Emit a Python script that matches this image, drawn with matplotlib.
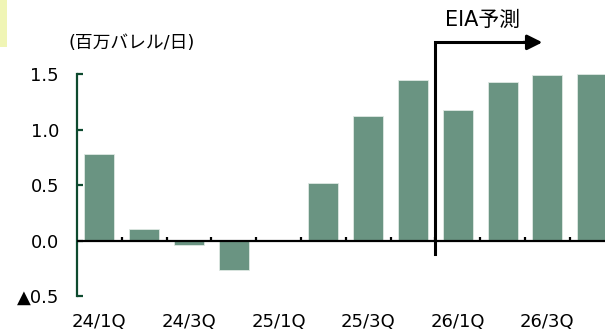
import numpy as np
import matplotlib
matplotlib.use('Agg')
import matplotlib.pyplot as plt
from matplotlib.patches import Rectangle

plt.rcParams['font.family'] = ['DejaVu Sans', 'Noto Sans CJK JP']

# データ (百万バレル/日)
quarters = ['24/1Q', '24/2Q', '24/3Q', '24/4Q', '25/1Q', '25/2Q',
            '25/3Q', '25/4Q', '26/1Q', '26/2Q', '26/3Q', '26/4Q']
values = [0.78, 0.105, -0.04, -0.27, 0.0, 0.515,
          1.12, 1.45, 1.18, 1.425, 1.49, 1.50]
forecast_start = '26/1Q'
yticks = [-0.5, 0.0, 0.5, 1.0, 1.5]
ytick_labels = ['▲0.5', '0.0', '0.5', '1.0', '1.5']

W, H = 605, 333
fig = plt.figure(figsize=(W / 100, H / 100), dpi=100)
# 右端のバーは少し切れている
ax = fig.add_axes([77 / W, (H - 296) / H, (12 * 44.8) / W, (296 - 74) / H])

x = np.arange(len(quarters))
ax.bar(x, values, width=0.67, color='#6a9482', edgecolor='#dfe9e3', linewidth=0.6, zorder=2)

ax.set_xlim(-0.5, len(quarters) - 0.5)
ax.set_ylim(-0.5, 1.5)

# 0の軸線と区切り目盛り
ax.axhline(0, color='black', lw=1.6, zorder=3)
bounds = np.arange(len(quarters) + 1) - 0.5
ax.vlines(bounds[1:], 0, 0.036, color='black', lw=1.6, zorder=3)

for s in ['top', 'right', 'bottom']:
    ax.spines[s].set_visible(False)
ax.spines['left'].set_color('#0e4a2f')
ax.spines['left'].set_linewidth(1.6)

ax.set_yticks(yticks)
ax.set_yticklabels(ytick_labels, family=['DejaVu Sans', 'Noto Sans CJK JP'])
ax.tick_params(axis='y', direction='in', length=4, width=1.6, color='#0e4a2f',
               pad=13, labelsize=13)

ax.set_xticks(x[::2])
ax.set_xticklabels(quarters[::2])
ax.tick_params(axis='x', length=0, pad=12, labelsize=13)

# EIA予測の矢印
xs = quarters.index(forecast_start) - 0.5
ax.plot([xs, xs, 9.5], [-0.125, 1.785, 1.785], color='black', lw=2.2,
        clip_on=False, zorder=4, solid_joinstyle='miter')
ax.annotate('', xy=(9.95, 1.785), xytext=(9.4, 1.785),
            arrowprops=dict(arrowstyle='-|>,head_length=0.9,head_width=0.45',
                            color='black', lw=2.2),
            annotation_clip=False)
fig.text(483 / W, 1 - 20 / H, 'EIA予測', ha='center', va='center', fontsize=15,
         family=['DejaVu Sans', 'Noto Sans CJK JP'])

fig.text(69 / W, 1 - 43 / H, '(百万バレル/日)', ha='left', va='center', fontsize=12.8,
         family=['DejaVu Sans', 'Noto Sans CJK JP'])

fig.patches.append(Rectangle((0, 1 - 47 / H), 7 / W, 47 / H, transform=fig.transFigure,
                             facecolor='#f0f5b5', edgecolor='none'))

fig.savefig('out.png', dpi=100)
